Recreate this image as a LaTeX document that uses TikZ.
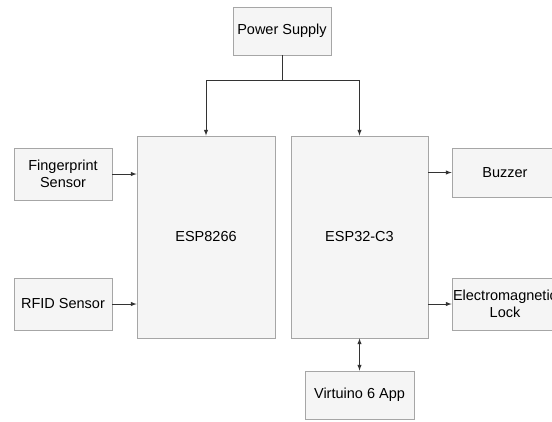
\documentclass[tikz,border=0pt]{standalone}
\usepackage{fontspec}
\setmainfont{Liberation Sans}
\usetikzlibrary{shadows}
\definecolor{boxfill}{HTML}{F5F5F5}
\definecolor{boxline}{HTML}{A6A6A6}
\definecolor{wire}{HTML}{333333}
\begin{document}
\begin{tikzpicture}[>=latex, x=1pt, y=-1pt,
	block/.style={draw=boxline, fill=boxfill, line width=0.8pt, align=center,
		inner sep=0pt, font=\fontsize{14.5}{17}\selectfont,
		drop shadow={shadow xshift=0.6pt, shadow yshift=-1.4pt, opacity=0.45}},
	wire/.style={draw=wire, line width=1pt}]
	\useasboundingbox (0,0) rectangle (552,421);
	% boxes
	\node[block, minimum width=98pt, minimum height=48pt] (ps) at (282,31) {Power Supply};
	\node[block, minimum width=138pt, minimum height=202pt] (esp8266) at (206,237) {ESP8266};
	\node[block, minimum width=137pt, minimum height=202pt] (esp32) at (359.5,237) {ESP32-C3};
	\node[block, minimum width=98pt, minimum height=52pt] (finger) at (63,174) {Fingerprint\\Sensor};
	\node[block, minimum width=98pt, minimum height=52pt] (rfid) at (63,304) {RFID Sensor};
	\node[block, minimum width=106pt, minimum height=49pt] (buzzer) at (505,172.5) {Buzzer};
	\node[block, minimum width=106pt, minimum height=52pt] (lock) at (505,304) {Electromagnetic\\Lock};
	\node[block, minimum width=109pt, minimum height=48pt] (app) at (359.5,395) {Virtuino 6 App};
	% power lines
	\coordinate (jn) at (282,80);
	\draw[wire] (ps) -- (jn);
	\draw[wire, ->] (jn) -| (esp8266.north);
	\draw[wire, ->] (jn) -| (esp32.north);
	% inputs and outputs
	\draw[wire, ->] (finger) -- (finger -| esp8266.west);
	\draw[wire, ->] (rfid) -- (rfid -| esp8266.west);
	\draw[wire, ->] (buzzer -| esp32.east) -- (buzzer);
	\draw[wire, ->] (lock -| esp32.east) -- (lock);
	\draw[wire, <->] (esp32) -- (app);
\end{tikzpicture}
\end{document}
